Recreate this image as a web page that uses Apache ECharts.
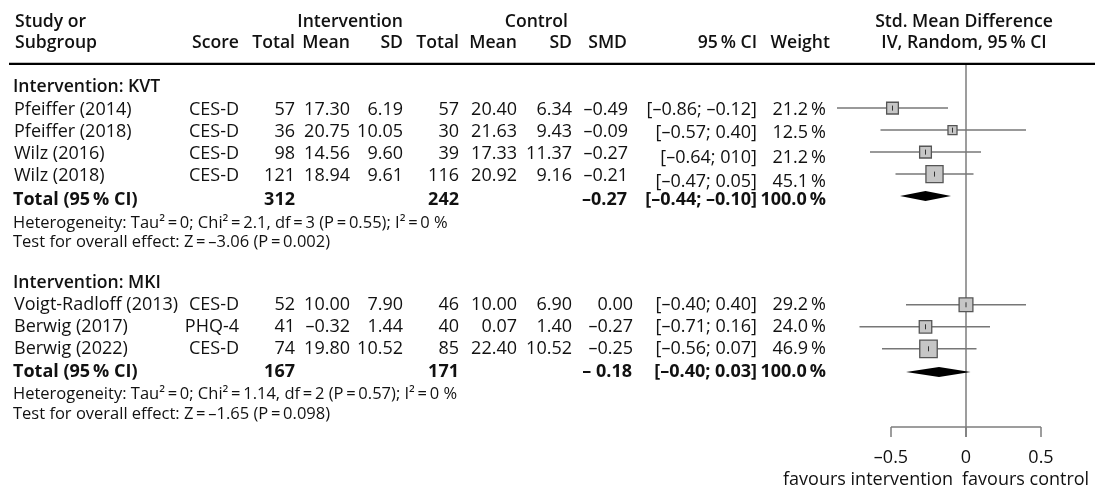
<!DOCTYPE html>
<html><head><meta charset="utf-8">
<script src="https://cdn.jsdelivr.net/npm/echarts@6/dist/echarts.min.js"></script>
<style>html,body{margin:0;padding:0;background:#fff}#c{width:1097px;height:491px}</style>
</head><body><div id="c"></div>
<script>
// ---------- data ----------
const groupNames = ['Intervention: KVT', 'Intervention: MKI'];
const studyGroup = [0, 0, 0, 0, 1, 1, 1];
const studies = ['Pfeiffer (2014)', 'Pfeiffer (2018)', 'Wilz (2016)', 'Wilz (2018)', 'Voigt-Radloff (2013)', 'Berwig (2017)', 'Berwig (2022)'];
const scores = ['CES-D', 'CES-D', 'CES-D', 'CES-D', 'CES-D', 'PHQ-4', 'CES-D'];
const intTotal = [57, 36, 98, 121, 52, 41, 74];
const intMean = [17.30, 20.75, 14.56, 18.94, 10.00, -0.32, 19.80];
const intSD = [6.19, 10.05, 9.60, 9.61, 7.90, 1.44, 10.52];
const ctrlTotal = [57, 30, 39, 116, 46, 40, 85];
const ctrlMean = [20.40, 21.63, 17.33, 20.92, 10.00, 0.07, 22.40];
const ctrlSD = [6.34, 9.43, 11.37, 9.16, 6.90, 1.40, 10.52];
const smd = [-0.49, -0.09, -0.27, -0.21, 0.00, -0.27, -0.25];
const ciLow = [-0.86, -0.57, -0.64, -0.47, -0.40, -0.71, -0.56];
const ciHigh = [-0.12, 0.40, 0.10, 0.05, 0.40, 0.16, 0.07];
const ciText = ['[–0.86; –0.12]', '[–0.57; 0.40]', '[–0.64; 010]', '[–0.47; 0.05]', '[–0.40; 0.40]', '[–0.71; 0.16]', '[–0.56; 0.07]'];
const weight = [21.2, 12.5, 21.2, 45.1, 29.2, 24.0, 46.9];

const totalInt = [312, 167];
const totalCtrl = [242, 171];
const totalSMD = [-0.27, -0.18];
const totalSMDText = ['–0.27', '– 0.18'];
const totalLow = [-0.44, -0.40];
const totalHigh = [-0.10, 0.03];
const totalWeight = [100.0, 100.0];
const hetText = ['Heterogeneity: Tau² = 0; Chi² = 2.1, df = 3 (P = 0.55); I² = 0 %',
                 'Heterogeneity: Tau² = 0; Chi² = 1.14, df = 2 (P = 0.57); I² = 0 %'];
const testText = ['Test for overall effect: Z = –3.06 (P = 0.002)',
                  'Test for overall effect: Z = –1.65 (P = 0.098)'];

const tickValues = [-0.5, 0, 0.5];
const tickLabels = ['–0.5', '0', '0.5'];
const favourLabels = ['favours intervention', 'favours control'];

// ---------- layout (rows are slots of 22px) ----------
const FONT = '"Open Sans", "Noto Sans", sans-serif';
const FS = 18, FS_NOTE = 16.5, FS_HEAD = 17.6, FS_BOLD = 18;
const TXT = '#111';
const groupLayout = [
  { head: 0, rows: [1.05, 2.05, 3.05, 4.05], mark: [0.96, 1.96, 2.96, 3.96], ciShift: [0, 0.05, 0.17, 0.28], total: 5.14, diamond: 4.95, het: 6.2, test: 7.08, smdX: 628 },
  { head: 8.9, rows: [9.9, 10.9, 11.9], mark: [9.9, 10.9, 11.9], ciShift: [0, 0, 0], total: 12.95, diamond: 12.95, het: 13.97, test: 14.88, smdX: 633 }
];
const headRows = [-2.95, -1.98];
const headerLineRow = -1.05;
const axisRow = 15.45;
const COL = { name: 14, score: 239, iTot: 295, iMean: 350, iSD: 403, cTot: 459, cMean: 517, cSD: 572, ci: 757, w: 826 };

const f2 = v => (v < 0 ? '–' : '') + Math.abs(v).toFixed(2);
const pct = v => v.toFixed(1) + '\u2009%';
const eq = s => s.replace(/ = /g, '\u2009=\u2009');

// build table rows
const tableRows = [];
function t(x, text, align, opts) { return Object.assign({ x, text, align }, opts || {}); }
const H = { w: 600, fs: FS_HEAD };
const B = { w: 700, fs: FS_BOLD };
tableRows.push({ row: headRows[0], cells: [
  t(15, 'Study or', 'left', H), t(COL.iSD, 'Intervention', 'right', H),
  t(COL.cSD - 4, 'Control', 'right', H), t(964, 'Std. Mean Difference', 'center', H)] });
tableRows.push({ row: headRows[1], cells: [
  t(15, 'Subgroup', 'left', H), t(COL.score, 'Score', 'right', H), t(COL.iTot, 'Total', 'right', H),
  t(COL.iMean, 'Mean', 'right', H), t(COL.iSD, 'SD', 'right', H), t(COL.cTot, 'Total', 'right', H),
  t(COL.cMean, 'Mean', 'right', H), t(COL.cSD, 'SD', 'right', H), t(627, 'SMD', 'right', H),
  t(COL.ci, '95\u2009% CI', 'right', H), t(830, 'Weight', 'right', H), t(964, 'IV, Random, 95\u2009% CI', 'center', H)] });
groupNames.forEach((g, gi) => {
  const L = groupLayout[gi];
  tableRows.push({ row: L.head, cells: [t(13, g, 'left', H)] });
  let k = 0;
  studies.forEach((s, i) => {
    if (studyGroup[i] !== gi) return;
    const r = L.rows[k], sh = L.ciShift[k]; k++;
    tableRows.push({ row: r, cells: [
      t(COL.name, s, 'left'), t(COL.score, scores[i], 'right'), t(COL.iTot, String(intTotal[i]), 'right'),
      t(COL.iMean, f2(intMean[i]), 'right'), t(COL.iSD, f2(intSD[i]), 'right'), t(COL.cTot, String(ctrlTotal[i]), 'right'),
      t(COL.cMean, f2(ctrlMean[i]), 'right'), t(COL.cSD, f2(ctrlSD[i]), 'right'), t(L.smdX, f2(smd[i]), 'right'),
      t(COL.ci, ciText[i], 'right', { dy: sh }), t(COL.w, pct(weight[i]), 'right', { dy: sh })] });
  });
  tableRows.push({ row: L.total, cells: [
    t(13, 'Total (95\u2009% CI)', 'left', B), t(COL.iTot, String(totalInt[gi]), 'right', B),
    t(COL.cTot, String(totalCtrl[gi]), 'right', B), t(L.smdX - 1, totalSMDText[gi], 'right', B),
    t(COL.ci, '[' + f2(totalLow[gi]) + '; ' + f2(totalHigh[gi]) + ']', 'right', B),
    t(COL.w, pct(totalWeight[gi]), 'right', B)] });
  tableRows.push({ row: L.het, cells: [t(13, eq(hetText[gi]), 'left', { fs: FS_NOTE })] });
  tableRows.push({ row: L.test, cells: [t(13, eq(testText[gi]), 'left', { fs: FS_NOTE })] });
});

// forest data
const studyData = studies.map((s, i) => {
  const gi = studyGroup[i];
  const idx = studies.filter((_, j) => j < i && studyGroup[j] === gi).length;
  return [ciLow[i], ciHigh[i], smd[i], groupLayout[gi].mark[idx], weight[i]];
});
const diamondData = groupNames.map((g, gi) => [totalLow[gi], totalHigh[gi], totalSMD[gi], groupLayout[gi].diamond]);

const chart = echarts.init(document.getElementById('c'), null, { renderer: 'canvas' });
chart.setOption({
  animation: false,
  grid: { left: 816, width: 270, top: 10, height: 451 },
  xAxis: { type: 'value', min: -1, max: 0.8, show: false },
  yAxis: { type: 'value', min: -3.5, max: 17, inverse: true, show: false },
  series: [
    { // table text
      type: 'custom', silent: true, clip: false,
      data: tableRows.map((r, i) => [0, r.row, i]),
      renderItem: (params, api) => {
        const r = tableRows[params.dataIndex];
        return { type: 'group', children: r.cells.map(c => ({
          type: 'text', x: c.x, y: api.coord([0, api.value(1) + (c.dy || 0)])[1],
          style: { text: c.text, align: c.align, verticalAlign: 'middle', fill: TXT,
                   fontFamily: FONT, fontSize: c.fs || FS, fontWeight: c.w || 400 } })) };
      }
    },
    { // frame: header rule, zero line, bottom axis
      type: 'custom', silent: true, clip: false,
      data: [[0, axisRow]],
      renderItem: (params, api) => {
        const yAx = api.coord([0, axisRow])[1];
        const yHead = api.coord([0, headerLineRow])[1];
        const x0 = api.coord([0, 0])[0];
        const children = [
          { type: 'line', shape: { x1: 9, y1: yHead, x2: 1095, y2: yHead }, style: { stroke: '#000', lineWidth: 2.2 } },
          { type: 'line', shape: { x1: x0, y1: yHead + 1, x2: x0, y2: yAx + 10 }, style: { stroke: '#7d7d7d', lineWidth: 1.5 } },
          { type: 'line', shape: { x1: api.coord([tickValues[0], 0])[0], y1: yAx, x2: api.coord([tickValues[tickValues.length - 1], 0])[0], y2: yAx }, style: { stroke: '#7d7d7d', lineWidth: 1.5 } }
        ];
        tickValues.forEach((v, i) => {
          const x = api.coord([v, 0])[0];
          children.push({ type: 'line', shape: { x1: x, y1: yAx, x2: x, y2: yAx + 10 }, style: { stroke: '#7d7d7d', lineWidth: 1.5 } });
          children.push({ type: 'text', x: x, y: yAx + 31, style: { text: tickLabels[i], align: 'center', verticalAlign: 'middle', fill: TXT, fontFamily: FONT, fontSize: FS } });
        });
        children.push({ type: 'text', x: x0 - 13, y: yAx + 53, style: { text: favourLabels[0], align: 'right', verticalAlign: 'middle', fill: TXT, fontFamily: FONT, fontSize: FS } });
        children.push({ type: 'text', x: x0 - 4, y: yAx + 53, style: { text: favourLabels[1], align: 'left', verticalAlign: 'middle', fill: TXT, fontFamily: FONT, fontSize: FS } });
        return { type: 'group', children };
      }
    },
    { // study CIs and squares
      type: 'custom', silent: true, clip: false,
      data: studyData,
      renderItem: (params, api) => {
        const lo = api.coord([api.value(0), api.value(3)]);
        const hi = api.coord([api.value(1), api.value(3)]);
        const c = api.coord([api.value(2), api.value(3)]);
        const s = 2.55 * Math.sqrt(api.value(4));
        return { type: 'group', children: [
          { type: 'line', shape: { x1: lo[0], y1: lo[1], x2: hi[0], y2: hi[1] }, style: { stroke: '#777', lineWidth: 1.5 } },
          { type: 'rect', shape: { x: c[0] - s / 2, y: c[1] - s / 2, width: s, height: s }, style: { fill: '#c6c6c6', stroke: '#555', lineWidth: 1.3 } },
          { type: 'line', shape: { x1: c[0], y1: c[1] - 2.5, x2: c[0], y2: c[1] + 2.5 }, style: { stroke: '#333', lineWidth: 1 } }
        ] };
      }
    },
    { // pooled diamonds
      type: 'custom', silent: true, clip: false,
      data: diamondData,
      renderItem: (params, api) => {
        const lo = api.coord([api.value(0), api.value(3)]);
        const hi = api.coord([api.value(1), api.value(3)]);
        const c = api.coord([api.value(2), api.value(3)]);
        return { type: 'polygon', shape: { points: [[lo[0], lo[1]], [c[0], c[1] - 5], [hi[0], hi[1]], [c[0], c[1] + 5]] }, style: { fill: '#000' } };
      }
    }
  ]
});
</script></body></html>
